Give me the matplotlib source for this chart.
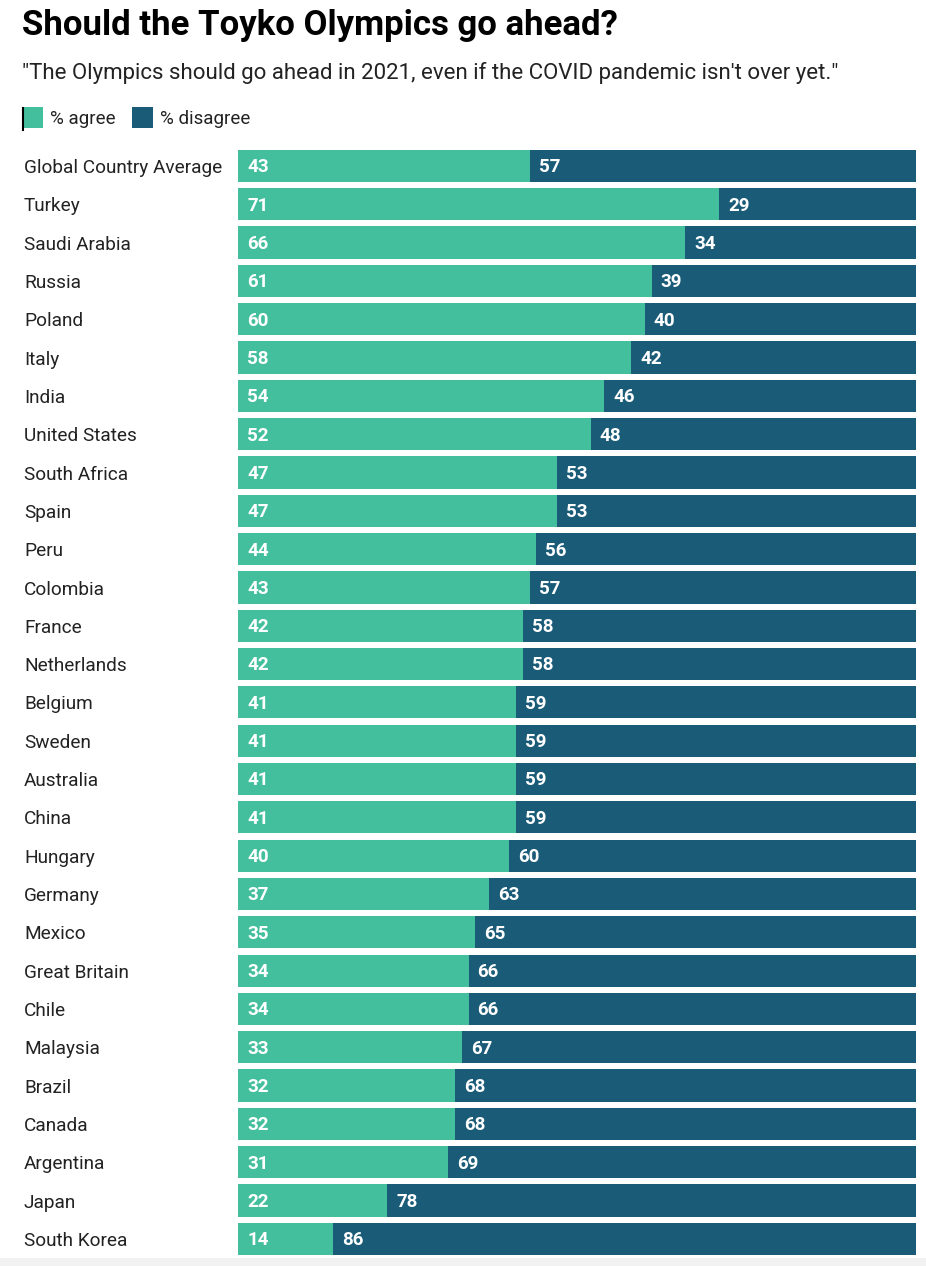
import matplotlib
matplotlib.use("Agg")
import matplotlib.pyplot as plt
from matplotlib.patches import Rectangle

countries = ["Global Country Average", "Turkey", "Saudi Arabia", "Russia", "Poland", "Italy",
             "India", "United States", "South Africa", "Spain", "Peru", "Colombia", "France",
             "Netherlands", "Belgium", "Sweden", "Australia", "China", "Hungary", "Germany",
             "Mexico", "Great Britain", "Chile", "Malaysia", "Brazil", "Canada", "Argentina",
             "Japan", "South Korea"]
agree = [43, 71, 66, 61, 60, 58, 54, 52, 47, 47, 44, 43, 42, 42, 41, 41, 41, 41, 40, 37,
         35, 34, 34, 33, 32, 32, 31, 22, 14]
disagree = [57, 29, 34, 39, 40, 42, 46, 48, 53, 53, 56, 57, 58, 58, 59, 59, 59, 59, 60, 63,
            65, 66, 66, 67, 68, 68, 69, 78, 86]

C_AGREE = "#44bf9e"
C_DIS = "#1a5c78"

W, H = 926, 1266
fig = plt.figure(figsize=(W / 100, H / 100), dpi=100)
fig.patch.set_facecolor("white")

# light grey strip at the very bottom
fig.patches.append(Rectangle((0, 0), 1, 8 / H, transform=fig.transFigure,
                             facecolor="#f2f2f2", edgecolor="none", zorder=0))

left, right = 238 / W, 916 / W
top_px, bot_px = 146.8, 1258
ax = fig.add_axes([left, 1 - bot_px / H, right - left, (bot_px - top_px) / H])
ax.set_xlim(0, 100)
n = len(countries)
ax.set_ylim(n - 0.5, -0.5)
ax.axis("off")

ys = list(range(n))
bh = 0.84
ax.barh(ys, agree, height=bh, color=C_AGREE, linewidth=0)
ax.barh(ys, disagree, left=agree, height=bh, color=C_DIS, linewidth=0)

for y, a, d, c in zip(ys, agree, disagree, countries):
    ax.annotate(str(a), (0, y), xytext=(6.5, -1.0), textcoords="offset points",
                va="center", ha="left", color="white", fontsize=13.5,
                fontweight="semibold", family="Roboto")
    ax.annotate(str(d), (a, y), xytext=(6.5, -1.0), textcoords="offset points",
                va="center", ha="left", color="white", fontsize=13.5,
                fontweight="semibold", family="Roboto")
    ax.annotate(c, (0, y), xycoords=("figure fraction", "data"),
                xytext=(24 * 0.72, -1.5), textcoords="offset points",
                va="center", ha="left", color="#222222", fontsize=13.7,
                family="Roboto")

# title and subtitle
fig.text(22 / W, 1 - 25 / H, "Should the Toyko Olympics go ahead?", fontsize=25,
         fontweight="bold", family="Roboto", va="center", ha="left", color="black")
fig.text(22 / W, 1 - 73 / H,
         "\"The Olympics should go ahead in 2021, even if the COVID pandemic isn't over yet.\"",
         fontsize=16, family="Roboto", va="center", ha="left", color="#222222")

# legend
sq = 21
for x0, col, lab in [(22, C_AGREE, "% agree"), (132, C_DIS, "% disagree")]:
    fig.patches.append(Rectangle((x0 / W, 1 - 128 / H), sq / W, sq / H,
                                 transform=fig.transFigure, facecolor=col,
                                 edgecolor="none"))
    fig.text((x0 + sq + 7) / W, 1 - 119 / H, lab, fontsize=13.5, family="Roboto",
             va="center", ha="left", color="#222222")
fig.add_artist(plt.Line2D([22.5 / W, 22.5 / W], [1 - 130 / H, 1 - 108 / H],
                          transform=fig.transFigure, color="black", linewidth=1.5))

fig.savefig("out.png", dpi=100)
